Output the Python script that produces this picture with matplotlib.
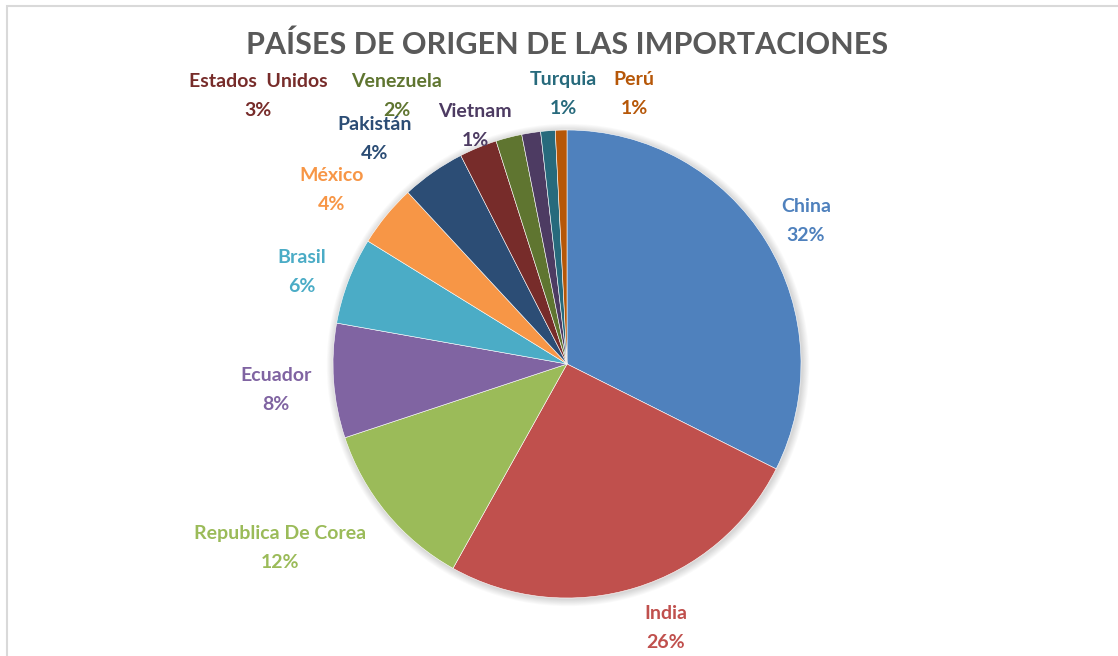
import matplotlib
matplotlib.use("Agg")
import matplotlib.pyplot as plt
from matplotlib.patches import Circle, Rectangle

countries = ["China", "India", "Republica De Corea", "Ecuador", "Brasil", "México",
             "Pakistán", "Estados  Unidos", "Venezuela", "Vietnam", "Turquia", "Perú"]
shares = [32.4, 25.7, 11.8, 7.9, 6.0, 4.3, 4.4, 2.6, 1.8, 1.3, 1.0, 0.8]
colors = ["#4F81BD", "#C0504D", "#9BBB59", "#8064A2", "#4BACC6", "#F79646",
          "#2C4D75", "#772C2A", "#5F7530", "#4D3B62", "#276A7C", "#B65708"]
title = "PAÍSES DE ORIGEN DE LAS IMPORTACIONES"

# label anchor positions (pixel coords, origin top-left)
label_pos = [(806, 221), (666, 628), (280, 548), (276, 390), (302, 272), (332, 190),
             (375, 139), (258, 96), (397, 96), (475, 126), (563, 94), (634, 94)]

W, H = 1118, 656
fig = plt.figure(figsize=(W / 100, H / 100), dpi=100)
ax = fig.add_axes([0, 0, 1, 1])

cx, cy, r = 567, H - 364, 234
# soft shadow
for k in range(8, 0, -1):
    ax.add_patch(Circle((cx + 1, cy - 1), r + k * 0.9, color="#000000", alpha=0.018, linewidth=0))

ax.pie(shares, colors=colors, startangle=90, counterclock=False,
       center=(cx, cy), radius=r, frame=True,
       wedgeprops=dict(linewidth=0.4, edgecolor="white"))
ax.set_xlim(0, W)
ax.set_ylim(0, H)
ax.set_aspect("equal")
ax.axis("off")

# border
ax.add_patch(Rectangle((6.5, -20), W + 20, H - 5.5 + 20, fill=False,
                       edgecolor="#D9D9D9", linewidth=1.5))

fam = ["Lato", "DejaVu Sans"]
for name, v, c, (px, py) in zip(countries, shares, colors, label_pos):
    ax.text(px, H - py, f"{name}\n{round(v)}%", color=c, ha="center", va="center",
            fontsize=14, fontweight="bold", family=fam, linespacing=1.85)

ax.text(567, H - 45, title, ha="center", va="center", fontsize=22,
        fontweight="bold", color="#595959", family=fam)

fig.savefig("out.png", dpi=100)
